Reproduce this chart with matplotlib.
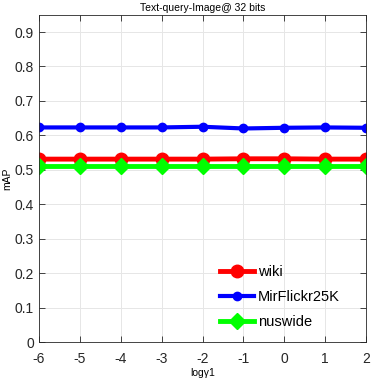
import matplotlib
matplotlib.use("Agg")
import matplotlib.pyplot as plt
import numpy as np

plt.rcParams['font.family'] = ['Liberation Sans', 'DejaVu Sans']
plt.rcParams['axes.unicode_minus'] = False

log_gamma = [-6, -5, -4, -3, -2, -1, 0, 1, 2]
wiki = [0.531, 0.531, 0.531, 0.531, 0.531, 0.532, 0.532, 0.531, 0.531]
mirflickr = [0.623, 0.623, 0.623, 0.623, 0.625, 0.620, 0.622, 0.623, 0.622]
nuswide = [0.512, 0.512, 0.512, 0.512, 0.512, 0.512, 0.512, 0.512, 0.512]

fig = plt.figure(figsize=(3.74, 3.80), dpi=100)
ax = fig.add_axes([0.104, 0.1, 0.875, 0.861])

ax.plot(log_gamma, wiki, color='#ff0000', lw=3.5, marker='o', ms=9, label='wiki')
ax.plot(log_gamma, mirflickr, color='#0000ff', lw=3, marker='o', ms=6, label='MirFlickr25K')
ax.plot(log_gamma, nuswide, color='#00ff00', lw=3.5, marker='D', ms=8, label='nuswide')

ax.set_xlim(-6, 2)
ax.set_ylim(0, 0.95)
ax.set_xticks(log_gamma)
ax.set_yticks(np.arange(0, 0.91, 0.1))
ax.set_yticklabels(['0', '0.1', '0.2', '0.3', '0.4', '0.5', '0.6', '0.7', '0.8', '0.9'])
ax.tick_params(direction='in', top=True, right=True, labelsize=10, length=4, width=0.6, colors='#262626')
ax.tick_params(axis='x', pad=7)
ax.grid(True, color='#e6e6e6', lw=0.7)
ax.set_axisbelow(True)
for s in ax.spines.values():
    s.set_color('#262626')
    s.set_linewidth(0.6)

ax.set_title('Text-query-Image@ 32 bits', fontsize=7.5, pad=3)
ax.set_xlabel('log\u03b31', fontsize=7.5, labelpad=2)
ax.set_ylabel('mAP', fontsize=7.5, labelpad=2)

ax.legend(loc='lower right', bbox_to_anchor=(0.96, 0.0), frameon=False, fontsize=10.5,
          handlelength=2.3, labelspacing=0.75, handletextpad=0.3)

fig.savefig('out.png', dpi=100)
